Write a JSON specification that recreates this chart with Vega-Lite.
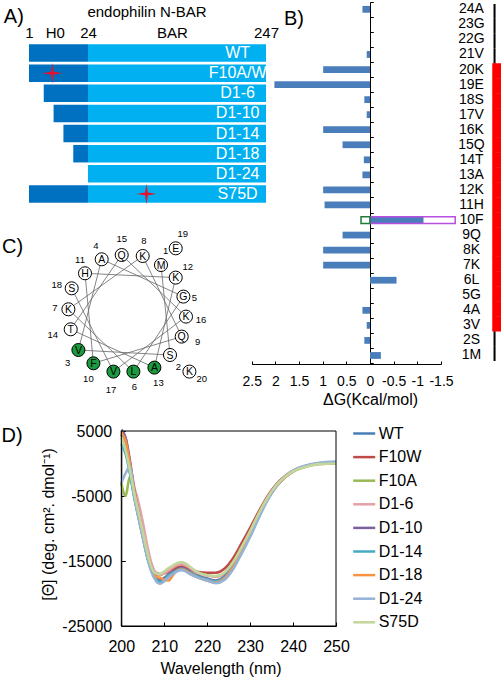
{
  "$schema": "https://vega.github.io/schema/vega-lite/v6.json",
  "width": 501,
  "height": 680,
  "autosize": "none",
  "padding": 0,
  "background": "white",
  "datasets": {
    "constructs": [
      {"construct": "WT", "start": 0, "h0": 24, "end": 247},
      {"construct": "F10A/W", "start": 0, "h0": 24, "end": 247},
      {"construct": "D1-6", "start": 6, "h0": 24, "end": 247},
      {"construct": "D1-10", "start": 10, "h0": 24, "end": 247},
      {"construct": "D1-14", "start": 14, "h0": 24, "end": 247},
      {"construct": "D1-18", "start": 18, "h0": 24, "end": 247},
      {"construct": "D1-24", "start": 24, "h0": 24, "end": 247},
      {"construct": "S75D", "start": 0, "h0": 24, "end": 247}
    ],
    "mutations": [
      {"construct": "F10A/W", "site": 9.5},
      {"construct": "S75D", "site": 74.5}
    ],
    "dg": [
      {"residue": "24A", "dG": 0.16, "helix": false},
      {"residue": "23G", "dG": 0, "helix": false},
      {"residue": "22G", "dG": 0, "helix": false},
      {"residue": "21V", "dG": 0.07, "helix": false},
      {"residue": "20K", "dG": 0.99, "helix": true},
      {"residue": "19E", "dG": 2.02, "helix": true},
      {"residue": "18S", "dG": 0.12, "helix": true},
      {"residue": "17V", "dG": 0.07, "helix": true},
      {"residue": "16K", "dG": 0.99, "helix": true},
      {"residue": "15Q", "dG": 0.58, "helix": true},
      {"residue": "14T", "dG": 0.13, "helix": true},
      {"residue": "13A", "dG": 0.16, "helix": true},
      {"residue": "12K", "dG": 0.99, "helix": true},
      {"residue": "11H", "dG": 0.96, "helix": true},
      {"residue": "10F", "dG": -1.13, "helix": true},
      {"residue": "9Q", "dG": 0.58, "helix": true},
      {"residue": "8K", "dG": 0.99, "helix": true},
      {"residue": "7K", "dG": 0.99, "helix": true},
      {"residue": "6L", "dG": -0.56, "helix": true},
      {"residue": "5G", "dG": 0, "helix": true},
      {"residue": "4A", "dG": 0.16, "helix": true},
      {"residue": "3V", "dG": 0.07, "helix": true},
      {"residue": "2S", "dG": 0.12, "helix": false},
      {"residue": "1M", "dG": -0.23, "helix": false}
    ],
    "f10": [
      {"residue": "10F", "mutant": "F10W", "dG": -1.8},
      {"residue": "10F", "mutant": "F10A", "dG": 0.19}
    ],
    "wheel": [
      {"n": 1, "aa": "M", "x": 33.3, "y": 48.3, "lx": 38, "ly": 62.3, "face": "polar"},
      {"n": 2, "aa": "S", "x": 42.3, "y": -41.7, "lx": 50.7, "ly": -53.3, "face": "polar"},
      {"n": 3, "aa": "V", "x": -49.3, "y": -36.7, "lx": -60, "ly": -49.3, "face": "hydrophobic"},
      {"n": 4, "aa": "A", "x": -26, "y": 54, "lx": -31.7, "ly": 67.7, "face": "polar"},
      {"n": 5, "aa": "G", "x": 55.7, "y": 16.7, "lx": 66.7, "ly": 15, "face": "polar"},
      {"n": 6, "aa": "L", "x": 5.7, "y": -58.3, "lx": 6.7, "ly": -74, "face": "hydrophobic"},
      {"n": 7, "aa": "K", "x": -59.3, "y": 4, "lx": -72.7, "ly": 5, "face": "polar"},
      {"n": 8, "aa": "K", "x": 15, "y": 57.3, "lx": 16.3, "ly": 72.7, "face": "polar"},
      {"n": 9, "aa": "Q", "x": 54, "y": -23.3, "lx": 70, "ly": -29, "face": "polar"},
      {"n": 10, "aa": "F", "x": -34.3, "y": -50, "lx": -39.3, "ly": -66, "face": "hydrophobic"},
      {"n": 11, "aa": "H", "x": -42.7, "y": 40, "lx": -47.7, "ly": 53.3, "face": "polar"},
      {"n": 12, "aa": "K", "x": 48, "y": 35.7, "lx": 60, "ly": 46, "face": "polar"},
      {"n": 13, "aa": "A", "x": 26.7, "y": -54.3, "lx": 30.7, "ly": -70, "face": "hydrophobic"},
      {"n": 14, "aa": "T", "x": -57, "y": -16, "lx": -75, "ly": -21.7, "face": "polar"},
      {"n": 15, "aa": "Q", "x": -6, "y": 58.3, "lx": -6, "ly": 74, "face": "polar"},
      {"n": 16, "aa": "K", "x": 58.3, "y": -3.3, "lx": 73.3, "ly": -6.7, "face": "polar"},
      {"n": 17, "aa": "V", "x": -14.3, "y": -58.3, "lx": -16.7, "ly": -76.7, "face": "hydrophobic"},
      {"n": 18, "aa": "S", "x": -56, "y": 25, "lx": -71, "ly": 28.3, "face": "polar"},
      {"n": 19, "aa": "E", "x": 48, "y": 65, "lx": 55, "ly": 79.3, "face": "polar"},
      {"n": 20, "aa": "K", "x": 61.7, "y": -58.3, "lx": 74, "ly": -66, "face": "polar"}
    ],
    "cd": [
      {"nm": 200, "WT": 4500, "F10W": 5000, "F10A": -3000, "D1-6": 4000, "D1-10": 5200, "D1-14": 3000, "D1-18": 4800, "D1-24": -3000, "S75D": 4000},
      {"nm": 201, "WT": 2500, "F10W": 3800, "F10A": -5000, "D1-6": 3000, "D1-10": 4000, "D1-14": 1500, "D1-18": 3500, "D1-24": -1500, "S75D": 2000},
      {"nm": 202, "WT": -1200, "F10W": 0, "F10A": -2000, "D1-6": 0, "D1-10": 500, "D1-14": -1500, "D1-18": 0, "D1-24": -500, "S75D": -1000},
      {"nm": 203, "WT": -5000, "F10W": -4000, "F10A": -4800, "D1-6": -3500, "D1-10": -4000, "D1-14": -5200, "D1-18": -4200, "D1-24": -5000, "S75D": -4500},
      {"nm": 204, "WT": -8000, "F10W": -7200, "F10A": -8200, "D1-6": -6000, "D1-10": -7500, "D1-14": -8300, "D1-18": -7600, "D1-24": -8300, "S75D": -7500},
      {"nm": 205, "WT": -11000, "F10W": -10300, "F10A": -11200, "D1-6": -9000, "D1-10": -10800, "D1-14": -11300, "D1-18": -10800, "D1-24": -11300, "S75D": -10500},
      {"nm": 206, "WT": -14000, "F10W": -13300, "F10A": -14200, "D1-6": -12500, "D1-10": -13800, "D1-14": -14300, "D1-18": -13900, "D1-24": -14300, "S75D": -13500},
      {"nm": 207, "WT": -16300, "F10W": -15600, "F10A": -16200, "D1-6": -15300, "D1-10": -16000, "D1-14": -16500, "D1-18": -16200, "D1-24": -16600, "S75D": -15900},
      {"nm": 208, "WT": -17700, "F10W": -16800, "F10A": -17000, "D1-6": -16800, "D1-10": -17400, "D1-14": -17800, "D1-18": -17400, "D1-24": -18000, "S75D": -16900},
      {"nm": 209, "WT": -18300, "F10W": -17000, "F10A": -17200, "D1-6": -17100, "D1-10": -18000, "D1-14": -18200, "D1-18": -17600, "D1-24": -18500, "S75D": -17000},
      {"nm": 210, "WT": -17900, "F10W": -16900, "F10A": -16800, "D1-6": -16900, "D1-10": -17600, "D1-14": -17800, "D1-18": -17900, "D1-24": -18100, "S75D": -16600},
      {"nm": 211, "WT": -17300, "F10W": -16700, "F10A": -16300, "D1-6": -16500, "D1-10": -17100, "D1-14": -17200, "D1-18": -18000, "D1-24": -17500, "S75D": -16100},
      {"nm": 212, "WT": -16900, "F10W": -16300, "F10A": -15900, "D1-6": -16000, "D1-10": -16700, "D1-14": -16800, "D1-18": -17200, "D1-24": -17000, "S75D": -15700},
      {"nm": 213, "WT": -16500, "F10W": -16000, "F10A": -15500, "D1-6": -15600, "D1-10": -16300, "D1-14": -16400, "D1-18": -16500, "D1-24": -16600, "S75D": -15300},
      {"nm": 214, "WT": -16300, "F10W": -15800, "F10A": -15300, "D1-6": -15500, "D1-10": -16100, "D1-14": -16200, "D1-18": -16300, "D1-24": -16400, "S75D": -15200},
      {"nm": 215, "WT": -16500, "F10W": -16000, "F10A": -15500, "D1-6": -15700, "D1-10": -16300, "D1-14": -16400, "D1-18": -16500, "D1-24": -16600, "S75D": -15400},
      {"nm": 216, "WT": -16900, "F10W": -16300, "F10A": -16000, "D1-6": -16100, "D1-10": -16700, "D1-14": -16800, "D1-18": -16900, "D1-24": -17000, "S75D": -15900},
      {"nm": 218, "WT": -17500, "F10W": -16700, "F10A": -16800, "D1-6": -16900, "D1-10": -17300, "D1-14": -17400, "D1-18": -17600, "D1-24": -17600, "S75D": -16800},
      {"nm": 220, "WT": -17900, "F10W": -16800, "F10A": -17200, "D1-6": -17200, "D1-10": -17700, "D1-14": -17800, "D1-18": -18000, "D1-24": -18000, "S75D": -17200},
      {"nm": 222, "WT": -18200, "F10W": -16800, "F10A": -17400, "D1-6": -17400, "D1-10": -18000, "D1-14": -18100, "D1-18": -18300, "D1-24": -18400, "S75D": -17300},
      {"nm": 224, "WT": -17600, "F10W": -16200, "F10A": -16900, "D1-6": -16900, "D1-10": -17400, "D1-14": -17500, "D1-18": -17700, "D1-24": -17900, "S75D": -16800},
      {"nm": 226, "WT": -15900, "F10W": -14600, "F10A": -15300, "D1-6": -15300, "D1-10": -15700, "D1-14": -15800, "D1-18": -16000, "D1-24": -16300, "S75D": -15200},
      {"nm": 228, "WT": -13600, "F10W": -12300, "F10A": -13000, "D1-6": -13000, "D1-10": -13400, "D1-14": -13500, "D1-18": -13600, "D1-24": -13900, "S75D": -12900},
      {"nm": 230, "WT": -11000, "F10W": -9900, "F10A": -10500, "D1-6": -10600, "D1-10": -10900, "D1-14": -10900, "D1-18": -11000, "D1-24": -11300, "S75D": -10400},
      {"nm": 232, "WT": -8200, "F10W": -7400, "F10A": -7800, "D1-6": -7900, "D1-10": -8100, "D1-14": -8100, "D1-18": -8200, "D1-24": -8400, "S75D": -7700},
      {"nm": 234, "WT": -5600, "F10W": -5100, "F10A": -5400, "D1-6": -5400, "D1-10": -5500, "D1-14": -5500, "D1-18": -5600, "D1-24": -5700, "S75D": -5300},
      {"nm": 236, "WT": -3600, "F10W": -3300, "F10A": -3500, "D1-6": -3500, "D1-10": -3500, "D1-14": -3500, "D1-18": -3600, "D1-24": -3600, "S75D": -3400},
      {"nm": 238, "WT": -2200, "F10W": -2000, "F10A": -2100, "D1-6": -2100, "D1-10": -2100, "D1-14": -2100, "D1-18": -2200, "D1-24": -2100, "S75D": -2100},
      {"nm": 240, "WT": -1200, "F10W": -1100, "F10A": -1200, "D1-6": -1200, "D1-10": -1200, "D1-14": -1200, "D1-18": -1200, "D1-24": -1100, "S75D": -1200},
      {"nm": 243, "WT": -400, "F10W": -400, "F10A": -500, "D1-6": -400, "D1-10": -400, "D1-14": -400, "D1-18": -400, "D1-24": -300, "S75D": -500},
      {"nm": 246, "WT": 0, "F10W": 0, "F10A": -100, "D1-6": 0, "D1-10": 50, "D1-14": 0, "D1-18": 0, "D1-24": 100, "S75D": -100},
      {"nm": 250, "WT": 200, "F10W": 100, "F10A": 0, "D1-6": 100, "D1-10": 200, "D1-14": 200, "D1-18": 100, "D1-24": 300, "S75D": 0}
    ]
  },
  "layer": [
    {
      "data": {"name": "constructs"},
      "layer": [
        {
          "mark": {"type": "bar", "color": "#00b0f0"},
          "encoding": {
            "y": {"field": "construct", "type": "nominal",
              "scale": {"domain": ["WT", "F10A/W", "D1-6", "D1-10", "D1-14", "D1-18", "D1-24", "S75D"], "range": [44.3, 202.7], "paddingInner": 0.13, "paddingOuter": 0},
              "axis": {"orient": "left", "offset": -29, "labels": false, "ticks": false, "domain": false, "title": "A)", "titleAngle": 0, "titleAlign": "left", "titleBaseline": "alphabetic", "titleX": -25.7, "titleY": 22.3, "titleFontSize": 20}},
            "x": {"field": "h0", "type": "quantitative",
              "scale": {"domain": [0, 24, 75, 247], "range": [29, 88, 147, 266], "nice": false, "zero": false},
              "axis": {"orient": "top", "offset": -44.3, "values": [0, 10.5, 24, 111, 247],
                "labelExpr": "datum.value == 0 ? '1' : datum.value == 10.5 ? 'H0' : datum.value == 24 ? '24' : datum.value == 111 ? 'BAR' : '247'",
                "domain": false, "ticks": false, "labelFontSize": 15, "labelPadding": 7, "labelBaseline": "alphabetic", "labelOverlap": false, "labelBound": false, "labelFlush": false,
                "title": "endophilin N-BAR", "titleFontSize": 15, "titleX": 146.5, "titleY": -28.3, "titleBaseline": "alphabetic", "titleAlign": "center"}},
            "x2": {"field": "end"}
          }
        },
        {
          "mark": {"type": "bar", "color": "#0070c0"},
          "encoding": {
            "y": {"field": "construct", "type": "nominal"},
            "x": {"field": "start", "type": "quantitative"},
            "x2": {"field": "h0"}
          }
        },
        {
          "mark": {"type": "text", "color": "white", "fontSize": 16, "align": "center", "baseline": "middle"},
          "encoding": {
            "y": {"field": "construct", "type": "nominal"},
            "x": {"datum": 206},
            "text": {"field": "construct"}
          }
        },
        {
          "data": {"name": "mutations"},
          "mark": {"type": "point", "shape": "M0,-1L0.13,-0.13L1,0L0.13,0.13L0,1L-0.13,0.13L-1,0L-0.13,-0.13Z", "filled": true, "color": "#e8112d", "size": 420, "opacity": 1},
          "encoding": {
            "y": {"field": "construct", "type": "nominal"},
            "x": {"field": "site", "type": "quantitative"}
          }
        }
      ]
    },
    {
      "data": {"name": "wheel"},
      "layer": [
        {
          "transform": [{"filter": "datum.n <= 18"}],
          "mark": {"type": "line", "color": "#666666", "strokeWidth": 0.8},
          "encoding": {
            "x": {"field": "x", "type": "quantitative", "scale": {"domain": [-80, 80], "range": [47.7, 207.7], "nice": false, "zero": false}, "axis": null},
            "y": {"field": "y", "type": "quantitative", "scale": {"domain": [-85, 85], "range": [398.3, 228.3], "nice": false, "zero": false},
              "axis": {"orient": "left", "offset": -29, "labels": false, "ticks": false, "domain": false, "grid": false, "title": "C)", "titleAngle": 0, "titleAlign": "left", "titleBaseline": "alphabetic", "titleX": -27.5, "titleY": 252.7, "titleFontSize": 20}},
            "order": {"field": "n", "type": "quantitative"}
          }
        },
        {
          "mark": {"type": "point", "shape": "circle", "filled": true, "size": 170, "strokeWidth": 1, "opacity": 1},
          "encoding": {
            "x": {"field": "x", "type": "quantitative"},
            "y": {"field": "y", "type": "quantitative"},
            "stroke": {"value": "black"},
            "fill": {"field": "face", "type": "nominal", "scale": {"domain": ["polar", "hydrophobic"], "range": ["white", "#1b9a3f"]}, "legend": null}
          }
        },
        {
          "mark": {"type": "text", "fontSize": 10.5, "align": "center", "baseline": "middle", "dy": 0.5, "color": "black"},
          "encoding": {
            "x": {"field": "x", "type": "quantitative"},
            "y": {"field": "y", "type": "quantitative"},
            "text": {"field": "aa"}
          }
        },
        {
          "mark": {"type": "text", "fontSize": 9.5, "align": "center", "baseline": "middle", "color": "black"},
          "encoding": {
            "x": {"field": "lx", "type": "quantitative"},
            "y": {"field": "ly", "type": "quantitative"},
            "text": {"field": "n"}
          }
        }
      ]
    },
    {
      "layer": [
        {
          "data": {"name": "dg"},
          "mark": {"type": "bar", "color": "#4a7ebb", "height": {"band": 0.45}},
          "encoding": {
            "y": {"field": "residue", "type": "nominal",
              "scale": {"domain": ["24A", "23G", "22G", "21V", "20K", "19E", "18S", "17V", "16K", "15Q", "14T", "13A", "12K", "11H", "10F", "9Q", "8K", "7K", "6L", "5G", "4A", "3V", "2S", "1M"], "range": [1.8, 363], "paddingInner": 0, "paddingOuter": 0},
              "axis": {"orient": "left", "offset": -370, "labels": false, "tickBand": "extent", "tickSize": -3.3, "domain": true,
                "title": "B)", "titleAngle": 0, "titleAlign": "left", "titleBaseline": "alphabetic", "titleX": -86.6, "titleY": 24, "titleFontSize": 20}},
            "x": {"field": "dG", "type": "quantitative",
              "scale": {"domain": [2.5, -1.5], "range": [251.7, 441], "nice": false, "zero": false},
              "axis": {"orient": "bottom", "offset": -316, "values": [2.5, 2, 1.5, 1, 0.5, 0, -0.5, -1, -1.5], "labelExpr": "toString(datum.value)", "tickSize": -3, "labelFontSize": 14, "labelPadding": 24, "labelBaseline": "alphabetic", "labelFlush": false, "labelOverlap": false,
                "title": "ΔG(Kcal/mol)", "titleFontSize": 16, "titleX": 370, "titleY": 40, "titleBaseline": "alphabetic", "titleAlign": "center"}},
            "x2": {"datum": 0}
          }
        },
        {
          "data": {"name": "f10"},
          "mark": {"type": "bar", "fill": "transparent", "strokeWidth": 1.5, "height": {"band": 0.45}},
          "encoding": {
            "y": {"field": "residue", "type": "nominal",
              "axis": {"orient": "right", "offset": -60, "labelFontSize": 14, "labelAlign": "center", "labelBaseline": "middle", "labelPadding": 30, "ticks": false, "domain": false, "title": null}},
            "x": {"field": "dG", "type": "quantitative"},
            "x2": {"datum": 0},
            "stroke": {"field": "mutant", "type": "nominal", "scale": {"domain": ["F10W", "F10A"], "range": ["#b84fe0", "#1e7b3a"]}, "legend": null}
          }
        }
      ],
      "resolve": {"axis": {"y": "independent"}}
    },
    {
      "data": {"name": "dg"},
      "layer": [
        {
          "mark": {"type": "rect", "color": "black"},
          "encoding": {
            "y": {"field": "residue", "type": "nominal",
              "scale": {"domain": ["24A", "23G", "22G", "21V", "20K", "19E", "18S", "17V", "16K", "15Q", "14T", "13A", "12K", "11H", "10F", "9Q", "8K", "7K", "6L", "5G", "4A", "3V", "2S", "1M"], "range": [4, 361], "paddingInner": 0, "paddingOuter": 0},
              "axis": null},
            "x": {"datum": 0.12, "type": "quantitative", "scale": {"domain": [0, 1], "range": [492.5, 501], "nice": false, "zero": false}, "axis": null},
            "x2": {"datum": 0.36}
          }
        },
        {
          "transform": [{"filter": "datum.helix"}],
          "mark": {"type": "rect", "color": "#ff0000", "stroke": "#ff0000", "strokeWidth": 0.5},
          "encoding": {
            "y": {"field": "residue", "type": "nominal"},
            "x": {"datum": 0, "type": "quantitative"},
            "x2": {"datum": 1}
          }
        }
      ]
    },
    {
      "layer": [
        {
          "data": {"name": "cd"},
          "transform": [{"fold": ["WT", "F10W", "F10A", "D1-6", "D1-10", "D1-14", "D1-18", "D1-24", "S75D"], "as": ["sample", "theta"]}],
          "mark": {"type": "line", "strokeWidth": 2.6, "interpolate": "monotone", "clip": true},
          "encoding": {
            "x": {"field": "nm", "type": "quantitative", "scale": {"domain": [200, 250], "range": [121.3, 336], "nice": false, "zero": false},
              "axis": {"orient": "bottom", "offset": -54, "values": [200, 210, 220, 230, 240, 250], "tickSize": -4, "labelFontSize": 16, "labelPadding": 29.7, "labelBaseline": "alphabetic", "labelFlush": false,
                "title": "Wavelength (nm)", "titleFontSize": 16, "titleX": 220.5, "titleY": 47.3, "titleBaseline": "alphabetic", "titleAlign": "center"}},
            "y": {"field": "theta", "type": "quantitative", "scale": {"domain": [-25000, 5000], "range": [626, 431], "nice": false, "zero": false},
              "axis": {"orient": "left", "offset": -121.3, "values": [5000, -5000, -15000, -25000], "labelExpr": "toString(datum.value)", "tickSize": -4, "labelFontSize": 16, "labelPadding": 13.6, "labelFlush": false,
                "title": "[Θ] (deg. cm². dmol⁻¹)", "titleFontSize": 16, "titleX": -73.3, "titleY": 524, "titleAngle": -90, "titleBaseline": "middle", "titleAlign": "center"}},
            "color": {"field": "sample", "type": "nominal",
              "scale": {"domain": ["WT", "F10W", "F10A", "D1-6", "D1-10", "D1-14", "D1-18", "D1-24", "S75D"],
                "range": ["#4a7ebb", "#be4b48", "#98b954", "#e6a0a8", "#7d60a0", "#46aac5", "#f69240", "#95b3d7", "#c3d69b"]},
              "legend": {"orient": "none", "legendX": 351.7, "legendY": 421, "title": null, "labelFontSize": 16, "symbolType": "stroke", "symbolStrokeWidth": 2.5, "symbolSize": 484, "rowPadding": 2.6, "labelOffset": 2, "padding": 0}}
          }
        },
        {
          "data": {"values": [{"frame": "plot"}]},
          "mark": {"type": "rect", "fill": "transparent", "stroke": "black", "strokeWidth": 1},
          "encoding": {
            "x": {"datum": 200, "type": "quantitative",
              "axis": {"orient": "top", "offset": -431, "labels": false, "ticks": false, "domain": false, "title": "D)", "titleAngle": 0, "titleAlign": "left", "titleBaseline": "alphabetic", "titleX": 1.1, "titleY": 10.7, "titleFontSize": 20}},
            "x2": {"datum": 250},
            "y": {"datum": -25000, "type": "quantitative", "axis": null},
            "y2": {"datum": 5000}
          }
        }
      ],
      "resolve": {"axis": {"x": "independent", "y": "independent"}}
    }
  ],
  "resolve": {
    "scale": {"x": "independent", "y": "independent", "color": "independent", "fill": "independent", "stroke": "independent"},
    "axis": {"x": "independent", "y": "independent"},
    "legend": {"color": "independent", "fill": "independent", "stroke": "independent"}
  },
  "config": {
    "view": {"stroke": null},
    "font": "Liberation Sans",
    "axis": {"grid": false, "labelColor": "black", "titleColor": "black", "domainColor": "black", "tickColor": "black", "titleFontWeight": "normal", "labelFont": "Liberation Sans", "titleFont": "Liberation Sans"},
    "legend": {"labelColor": "black", "labelFont": "Liberation Sans"},
    "title": {"color": "black", "font": "Liberation Sans"},
    "text": {"font": "Liberation Sans"}
  }
}
